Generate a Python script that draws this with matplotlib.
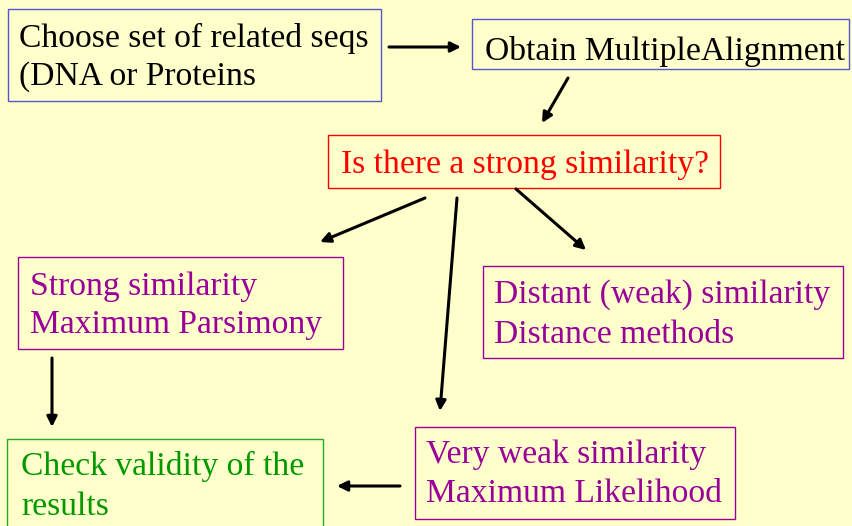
import matplotlib.pyplot as plt
from matplotlib.patches import Rectangle

# flowchart content
node_lines = [
    ["Choose set of related seqs", "(DNA or Proteins"],
    ["Obtain MultipleAlignment"],
    ["Is there a strong similarity?"],
    ["Strong similarity", "Maximum Parsimony"],
    ["Distant (weak) similarity", "Distance methods"],
    ["Very weak similarity", "Maximum Likelihood"],
    ["Check validity of the", "results"],
]
node_colors = ["black", "black", "#ff0000", "#990099", "#990099", "#990099", "#009900"]
edge_colors = ["#5555cc", "#5555cc", "#ff0000", "#990099", "#990099", "#990099", "#22aa22"]

# layout in pixels (x0, y0, x1, y1), y measured from top
boxes = [
    (8, 9, 381, 101),
    (472, 19, 849, 69),
    (328, 135, 720, 188),
    (18, 257, 343, 349),
    (483, 266, 843, 358),
    (415, 427, 735, 519),
    (7, 439, 323, 530),
]
text_x = [19, 485, 341, 30, 494, 426, 21]
baselines = [[47, 85], [60], [173], [295, 333], [303, 343], [463, 502], [475, 515]]

arrows = [
    ((389, 47), (461, 47)),
    ((568, 78), (542, 123)),
    ((425, 198), (320, 242)),
    ((457, 198), (440, 411)),
    ((516, 189), (586, 250)),
    ((52, 358), (52, 427)),
    ((400, 486), (337, 486)),
]

plt.rcParams["font.family"] = "serif"
plt.rcParams["font.serif"] = ["Liberation Serif", "DejaVu Serif"]

fig = plt.figure(figsize=(8.52, 5.26), dpi=100)
fig.patch.set_facecolor("#ffffcc")
ax = fig.add_axes([0, 0, 1, 1])
ax.set_facecolor("#ffffcc")
ax.set_xlim(0, 852)
ax.set_ylim(526, 0)
ax.axis("off")

for i, lines in enumerate(node_lines):
    x0, y0, x1, y1 = boxes[i]
    ax.add_patch(Rectangle((x0, y0), x1 - x0, y1 - y0, fill=False,
                           edgecolor=edge_colors[i], lw=1.0))
    for line, yb in zip(lines, baselines[i]):
        ax.text(text_x[i], yb, line, color=node_colors[i], fontsize=24.2,
                va="baseline", ha="left")

for start, end in arrows:
    ax.annotate("", xy=end, xytext=start,
                arrowprops=dict(arrowstyle="-|>", color="black", lw=2.2,
                                mutation_scale=15, shrinkA=0, shrinkB=0))

plt.savefig("out.png", dpi=100, facecolor=fig.get_facecolor())
